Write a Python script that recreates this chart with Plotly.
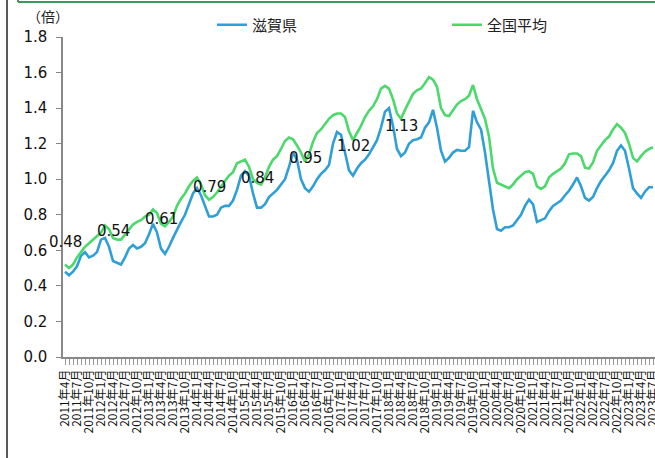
import plotly.graph_objects as go

# --- data -------------------------------------------------------------
start_year, start_month, n_months = 2011, 4, 148
months = []
for k in range(n_months):
    m = (start_month - 1 + k) % 12 + 1
    y = start_year + (start_month - 1 + k) // 12
    months.append(f"{y}年{m}月")

shiga = [
    0.48, 0.46, 0.48, 0.51, 0.57, 0.59, 0.56, 0.57, 0.59, 0.66, 0.67, 0.62,
    0.54, 0.53, 0.52, 0.56, 0.61, 0.63, 0.61, 0.62, 0.64, 0.69, 0.75, 0.70,
    0.61, 0.58, 0.62, 0.67, 0.72, 0.76, 0.80, 0.86, 0.92, 0.95, 0.91, 0.85,
    0.79, 0.79, 0.80, 0.84, 0.85, 0.85, 0.88, 0.94, 1.02, 1.045, 1.02, 0.92,
    0.84, 0.84, 0.86, 0.90, 0.92, 0.94, 0.97, 1.00, 1.07, 1.15, 1.11, 1.00,
    0.95, 0.93, 0.96, 1.00, 1.03, 1.05, 1.08, 1.20, 1.265, 1.25, 1.15, 1.05,
    1.02, 1.06, 1.09, 1.11, 1.14, 1.18, 1.22, 1.29, 1.38, 1.40, 1.30, 1.17,
    1.13, 1.15, 1.20, 1.22, 1.225, 1.235, 1.29, 1.32, 1.39, 1.29, 1.16, 1.10,
    1.12, 1.15, 1.165, 1.16, 1.16, 1.18, 1.385, 1.32, 1.28, 1.15, 0.98, 0.83,
    0.72, 0.71, 0.73, 0.73, 0.74, 0.77, 0.80, 0.85, 0.885, 0.86, 0.76, 0.77,
    0.78, 0.82, 0.85, 0.865, 0.88, 0.91, 0.935, 0.97, 1.01, 0.96, 0.895, 0.88,
    0.90, 0.95, 0.99, 1.02, 1.05, 1.09, 1.16, 1.19, 1.16, 1.06, 0.95, 0.92,
    0.895, 0.93, 0.955, 0.955,
]

national = [
    0.52, 0.50, 0.52, 0.56, 0.59, 0.62, 0.64, 0.66, 0.68, 0.70, 0.74, 0.72,
    0.67, 0.66, 0.66, 0.69, 0.72, 0.745, 0.76, 0.77, 0.79, 0.80, 0.83, 0.81,
    0.75, 0.735, 0.76, 0.79, 0.85, 0.89, 0.92, 0.96, 0.99, 1.01, 0.97, 0.91,
    0.885, 0.90, 0.925, 0.96, 0.99, 1.02, 1.04, 1.09, 1.10, 1.11, 1.07, 1.00,
    0.98, 0.97, 1.01, 1.07, 1.11, 1.13, 1.17, 1.215, 1.235, 1.225, 1.19, 1.15,
    1.10, 1.14, 1.21, 1.26, 1.28, 1.31, 1.34, 1.36, 1.37, 1.37, 1.35, 1.27,
    1.22, 1.26, 1.30, 1.35, 1.385, 1.41, 1.45, 1.51, 1.525, 1.51, 1.45, 1.37,
    1.34, 1.39, 1.44, 1.48, 1.50, 1.51, 1.54, 1.575, 1.56, 1.52, 1.40, 1.36,
    1.355, 1.39, 1.42, 1.44, 1.45, 1.47, 1.53, 1.45, 1.40, 1.34, 1.24, 1.06,
    0.98, 0.97, 0.96, 0.95, 0.97, 1.00, 1.02, 1.04, 1.045, 1.03, 0.96, 0.945,
    0.96, 1.01, 1.03, 1.045, 1.06, 1.09, 1.14, 1.145, 1.145, 1.13, 1.065, 1.06,
    1.095, 1.16, 1.19, 1.22, 1.24, 1.28, 1.31, 1.29, 1.26, 1.20, 1.12, 1.10,
    1.13, 1.155, 1.17, 1.18,
]

label_months = ["2011年4月", "2012年4月", "2013年4月", "2014年4月",
                "2015年4月", "2016年4月", "2017年4月", "2018年4月"]
label_values = [0.48, 0.54, 0.61, 0.79, 0.84, 0.95, 1.02, 1.13]

y_ticks = [0.0, 0.2, 0.4, 0.6, 0.8, 1.0, 1.2, 1.4, 1.6, 1.8]

# tick labels: every 3rd month shown
tick_text = [lab if k % 3 == 0 else "" for k, lab in enumerate(months)]

# --- figure ------------------------------------------------------------
BLUE = "#2f9fd8"
GREEN = "#4cd96b"
NUM_FONT = "DejaVu Sans, Noto Sans CJK JP"
JP_FONT = "Noto Sans CJK JP, DejaVu Sans"

fig = go.Figure()
fig.add_trace(go.Scatter(x=months, y=shiga, mode="lines", name="滋賀県",
                         line=dict(color=BLUE, width=2.6), legend="legend"))
fig.add_trace(go.Scatter(x=months, y=national, mode="lines", name="全国平均",
                         line=dict(color=GREEN, width=2.6), legend="legend2"))

for m, v in zip(label_months, label_values):
    fig.add_annotation(x=m, y=v, text=f"{v:.2f}", showarrow=False, yshift=30,
                       xanchor="center", yanchor="middle",
                       font=dict(family=NUM_FONT, size=15, color="#111"))

W, H = 655, 458
L, T, B, R = 63, 37, 101, 0
pw, ph = W - L - R, H - T - B

def px_x(p):
    return (p - L) / pw

def px_y(p):
    return (H - B - p) / ph

fig.add_annotation(x=px_x(48), y=px_y(16), xref="paper", yref="paper",
                   xanchor="center", yanchor="middle",
                   text="（倍）", showarrow=False,
                   font=dict(family=JP_FONT, size=14, color="#222"))

# frame decorations
fig.add_shape(type="line", xref="paper", yref="paper",
              x0=px_x(7), x1=px_x(7), y0=px_y(0), y1=px_y(470),
              line=dict(color="#222", width=1.5))
fig.add_shape(type="line", xref="paper", yref="paper",
              x0=px_x(18), x1=px_x(670), y0=px_y(2), y1=px_y(2),
              line=dict(color="#3a9a5e", width=2))
fig.add_shape(type="line", xref="paper", yref="paper",
              x0=px_x(18), x1=px_x(18), y0=px_y(-4), y1=px_y(2),
              line=dict(color="#3a9a5e", width=2))

legend_common = dict(orientation="h", yanchor="middle", xanchor="left",
                     bgcolor="rgba(0,0,0,0)",
                     font=dict(family=JP_FONT, size=15, color="#222"))

fig.update_layout(
    width=W, height=H,
    margin=dict(l=L, r=R, t=T, b=B, autoexpand=False),
    paper_bgcolor="white", plot_bgcolor="white",
    showlegend=True,
    legend=dict(x=px_x(212), y=px_y(25), **legend_common),
    legend2=dict(x=px_x(447), y=px_y(25), **legend_common),
    xaxis=dict(
        type="category", range=[-0.5, n_months - 0.5],
        tickmode="array", tickvals=months, ticktext=tick_text,
        tickangle=-90, ticks="outside", ticklen=6, tickcolor="#999",
        showline=True, linecolor="#888", linewidth=1.5,
        showgrid=False, zeroline=False, automargin=False,
        tickfont=dict(family=JP_FONT, size=12, color="#111"),
    ),
    yaxis=dict(
        range=[0, 1.8], tickmode="array", tickvals=y_ticks,
        ticktext=[f"{v:.1f}" for v in y_ticks],
        ticks="outside", ticklen=5, tickcolor="#888",
        showline=True, linecolor="#888", linewidth=1.5,
        showgrid=False, zeroline=False, automargin=False,
        ticklabelstandoff=6,
        tickfont=dict(family=NUM_FONT, size=15, color="#111"),
    ),
)

fig.write_html(
    "out.html",
    config={"displayModeBar": False},
    post_script="document.body.style.margin='0';document.body.style.overflow='hidden';",
)
